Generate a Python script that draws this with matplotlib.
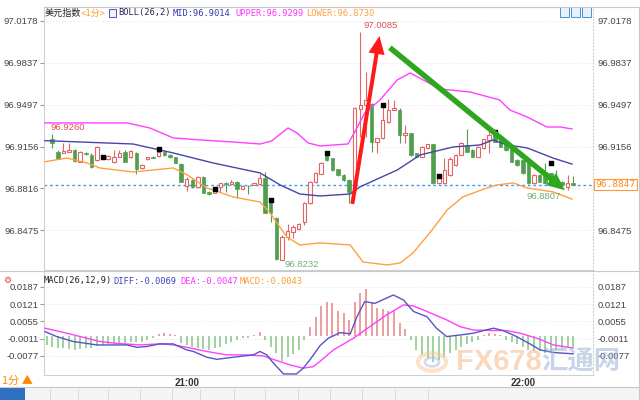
import numpy as np
import matplotlib
matplotlib.use("Agg")
import matplotlib.pyplot as plt
from matplotlib.patches import FancyArrowPatch, Rectangle, Circle
from matplotlib.lines import Line2D

# ---------------- data (1-minute candles 20:36 .. 22:09) ----------------
opens = [96.9215, 96.9115, 96.9107, 96.9115, 96.9128, 96.9033, 96.9101, 96.9088, 96.9047, 96.9079,
         96.9052, 96.9033, 96.9074, 96.9115, 96.9069, 96.9107, 96.8979, 96.9052, 96.9071, 96.9079,
         96.9115, 96.9088, 96.9069, 96.9015, 96.8836, 96.8885, 96.8825, 96.8912, 96.8790, 96.8782,
         96.8831, 96.8858, 96.8852, 96.8871, 96.8814, 96.8839, 96.8844, 96.8852, 96.8898, 96.8695,
         96.8573, 96.8238, 96.8425, 96.8465, 96.8484, 96.8545, 96.8700, 96.8866, 96.8934, 96.9088,
         96.9061, 96.8970, 96.8926, 96.8885, 96.8800, 96.9460, 96.9494, 96.9500, 96.9196, 96.9228,
         96.9359, 96.9453, 96.9453, 96.9250, 96.9263, 96.9101, 96.9074, 96.9142, 96.9174, 96.8858,
         96.8858, 96.8925, 96.9006, 96.9090, 96.9169, 96.9128, 96.9074, 96.9142, 96.9210, 96.9250,
         96.9209, 96.9182, 96.9155, 96.9047, 96.9047, 96.9047, 96.8858, 96.8925, 96.8952, 96.8939,
         96.8885, 96.8871, 96.8825, 96.8858]
highs = [96.9260, 96.9128, 96.9182, 96.9188, 96.9134, 96.9123, 96.9115, 96.9101, 96.9161, 96.9088,
         96.9088, 96.9128, 96.9128, 96.9128, 96.9128, 96.9115, 96.9015, 96.9074, 96.9079, 96.9147,
         96.9128, 96.9096, 96.9074, 96.9025, 96.8906, 96.8890, 96.8917, 96.8917, 96.8798, 96.8817,
         96.8863, 96.8871, 96.8885, 96.8877, 96.8841, 96.8844, 96.8863, 96.8933, 96.8952, 96.8709,
         96.8587, 96.8438, 96.8527, 96.8519, 96.8533, 96.8709, 96.8877, 96.8952, 96.9034, 96.9096,
         96.9066, 96.8975, 96.8930, 96.8890, 96.9480, 97.0085, 96.9765, 96.9510, 96.9228, 96.9480,
         96.9540, 96.9534, 96.9466, 96.9331, 96.9270, 96.9105, 96.9160, 96.9180, 96.9180, 96.8920,
         96.9061, 96.9074, 96.9095, 96.9195, 96.9296, 96.9135, 96.9160, 96.9220, 96.9290, 96.9255,
         96.9215, 96.9188, 96.9160, 96.9052, 96.9052, 96.9052, 96.8930, 96.8930, 96.9020, 96.8945,
         96.8966, 96.8877, 96.8925, 96.8917]
lows = [96.9142, 96.9052, 96.9105, 96.9112, 96.9033, 96.9031, 96.9088, 96.8985, 96.9042, 96.9052,
        96.9047, 96.9025, 96.9069, 96.9031, 96.9061, 96.8933, 96.8974, 96.9047, 96.9061, 96.9074,
        96.9082, 96.9063, 96.9020, 96.8866, 96.8798, 96.8820, 96.8820, 96.8776, 96.8763, 96.8776,
        96.8790, 96.8790, 96.8844, 96.8736, 96.8809, 96.8771, 96.8841, 96.8844, 96.8614, 96.8546,
        96.8235, 96.8232, 96.8398, 96.8411, 96.8479, 96.8519, 96.8690, 96.8858, 96.8930, 96.9042,
        96.8960, 96.8920, 96.8880, 96.8700, 96.8790, 96.9237, 96.9237, 96.9115, 96.9101, 96.9220,
        96.9350, 96.9450, 96.9182, 96.9182, 96.9082, 96.9069, 96.9069, 96.9138, 96.8850, 96.8850,
        96.8850, 96.8920, 96.9000, 96.9085, 96.9110, 96.9069, 96.9069, 96.9138, 96.9101, 96.9190,
        96.9150, 96.9122, 96.9028, 96.9000, 96.8933, 96.8852, 96.8852, 96.8866, 96.8852, 96.8852,
        96.8852, 96.8838, 96.8807, 96.8840]
closes = [96.9188, 96.9055, 96.9120, 96.9128, 96.9039, 96.9115, 96.9098, 96.8993, 96.9155, 96.9061,
          96.9079, 96.9069, 96.9101, 96.9033, 96.9120, 96.8971, 96.9006, 96.9069, 96.9066, 96.9115,
          96.9088, 96.9069, 96.9025, 96.8871, 96.8890, 96.8825, 96.8912, 96.8782, 96.8768, 96.8809,
          96.8858, 96.8855, 96.8871, 96.8809, 96.8836, 96.8833, 96.8858, 96.8898, 96.8619, 96.8614,
          96.8240, 96.8425, 96.8473, 96.8500, 96.8527, 96.8700, 96.8868, 96.8939, 96.9021, 96.9048,
          96.8966, 96.8926, 96.8885, 96.8790, 96.9466, 96.9494, 96.9535, 96.9196, 96.9223, 96.9372,
          96.9454, 96.9466, 96.9250, 96.9269, 96.9088, 96.9074, 96.9155, 96.9174, 96.8858, 96.8917,
          96.8966, 96.9052, 96.9088, 96.9188, 96.9115, 96.9074, 96.9155, 96.9215, 96.9250, 96.9196,
          96.9155, 96.9128, 96.9033, 96.9006, 96.8939, 96.8858, 96.8925, 96.8871, 96.8858, 96.8858,
          96.8858, 96.8844, 96.8858, 96.8847]

# Bollinger bands BOLL(26,2), sampled along the drawn lines (candle index, price)
upper_idx = [-1.3, 13.4, 17.4, 21.6, 26.4, 32.3, 37.1, 39.2, 40.7, 42.1, 43.7, 45.7, 47.8, 52.8,
             54.2, 55.8, 58.5, 61.6, 63.9, 66.9, 69.2, 74.6, 79.9, 81.7, 84.8, 88.3, 90.7, 92.8]
upper_val = [96.9348, 96.9348, 96.9307, 96.9226, 96.9210, 96.9193, 96.9177, 96.9202, 96.9258,
             96.9307, 96.9266, 96.9185, 96.9161, 96.9177, 96.9291, 96.9429, 96.9534, 96.9697,
             96.9754, 96.9680, 96.9624, 96.9599, 96.9534, 96.9453, 96.9396, 96.9315, 96.9315, 96.9299]
mid_idx = [-1.3, 14.4, 21.6, 28.7, 37.1, 40.7, 44.2, 47.8, 53.2, 54.9, 61.6, 65.7, 71.6, 76.4,
           78.7, 81.2, 84.8, 89.4, 92.8]
mid_val = [96.9204, 96.9177, 96.9104, 96.9023, 96.8942, 96.8844, 96.8771, 96.8755, 96.8771,
           96.8828, 96.8966, 96.9088, 96.9153, 96.9169, 96.9210, 96.9169, 96.9145, 96.9063, 96.9014]
lower_idx = [-1.3, 2.6, 6.2, 8.5, 14.4, 21.6, 24.1, 27.6, 32.3, 37.1, 38.9, 40.1, 41.9, 44.2,
             47.8, 53.2, 55.5, 59.8, 62.1, 64.4, 67.4, 70.5, 73.3, 77.6, 79.4, 82.3, 84.8, 89.4, 92.8]
lower_val = [96.9033, 96.9063, 96.9023, 96.8982, 96.8950, 96.8982, 96.8926, 96.8820, 96.8747,
             96.8706, 96.8617, 96.8536, 96.8422, 96.8357, 96.8374, 96.8357, 96.8219, 96.8195,
             96.8211, 96.8292, 96.8455, 96.8641, 96.8747, 96.8820, 96.8844, 96.8861, 96.8820,
             96.8788, 96.8730]

last_price = 96.8847
marker_idx = [9, 19, 29, 39, 49, 59, 69, 79, 89]
marker_price = [96.9074, 96.9137, 96.8810, 96.8723, 96.9102, 96.9494, 96.8917, 96.9272, 96.9025]

# MACD(26,12,9)
hist_start = -1
macd_hist = [-0.0035, -0.0041, -0.0048, -0.0048, -0.0052, -0.0054, -0.0052, -0.0048, -0.0048, -0.0039,
             -0.0035, -0.0031, -0.0029, -0.0029, -0.0029, -0.0022, -0.0022, -0.0022, -0.0016, -0.0009,
             0.0007, 0.0010, 0.0007, 0.0003, -0.0026, -0.0035, -0.0041, -0.0048, -0.0052, -0.0054,
             -0.0048, -0.0041, -0.0031, -0.0022, -0.0016, -0.0009, -0.0007, 0.0003, 0.0016, -0.0018,
             -0.0041, -0.0067, -0.0095, -0.0080, -0.0069, -0.0054, -0.0016, 0.0035, 0.0073, 0.0114,
             0.0131, 0.0127, 0.0093, 0.0086, 0.0061, 0.0131, 0.0163, 0.0178, 0.0131, 0.0108,
             0.0102, 0.0093, 0.0093, 0.0050, 0.0025, -0.0016, -0.0054, -0.0073, -0.0086, -0.0099,
             -0.0092, -0.0082, -0.0067, -0.0054, -0.0041, -0.0031, -0.0022, -0.0016, 0.0003, 0.0010,
             0.0007, 0.0003, -0.0016, -0.0022, -0.0031, -0.0041, -0.0054, -0.0060, -0.0060, -0.0064,
             -0.0060, -0.0054, -0.0048, -0.0041, -0.0043]
diff_idx = [-1.3, 0.8, 3.75, 6.1, 7.9, 10.9, 13.3, 15.1, 16.9, 19.2, 21.6, 24.0, 25.2, 27.6, 29.4,
            32.3, 35.9, 37.1, 38.3, 39.5, 41.3, 43.6, 44.8, 46.0, 47.8, 49.3, 51.4, 52.3, 53.2,
            54.4, 55.8, 57.6, 60.9, 62.7, 64.5, 66.9, 68.6, 70.4, 72.8, 75.2, 77.0, 78.8, 80.5,
            82.9, 85.3, 87.1, 89.5, 93.0]
diff_val = [0.0016, -0.0003, -0.0022, -0.0029, -0.0035, -0.0035, -0.0035, -0.0044, -0.0041, -0.0031,
            -0.0031, -0.0054, -0.0060, -0.0082, -0.0090, -0.0082, -0.0073, -0.0060, -0.0073, -0.0105,
            -0.0146, -0.0146, -0.0124, -0.0092, -0.0038, -0.0009, 0.0012, 0.0010, 0.0007, 0.0073,
            0.0131, 0.0124, 0.0156, 0.0137, 0.0093, 0.0073, 0.0029, -0.0003, 0.0003, 0.0010,
            0.0020, 0.0029, 0.0020, -0.0003, -0.0031, -0.0054, -0.0064, -0.0069]
dea_idx = [-1.3, 2.6, 6.1, 8.5, 11.5, 15.7, 19.2, 21.6, 24.0, 27.6, 31.1, 34.7, 37.7, 40.1, 42.4,
           44.8, 46.6, 47.8, 50.2, 53.8, 56.7, 59.7, 62.7, 64.5, 66.9, 70.4, 72.8, 75.2, 78.8,
           81.1, 83.5, 86.5, 89.5, 93.0]
dea_val = [0.0029, 0.0010, -0.0009, -0.0022, -0.0029, -0.0035, -0.0031, -0.0035, -0.0044, -0.0060,
           -0.0073, -0.0073, -0.0077, -0.0095, -0.0111, -0.0124, -0.0118, -0.0098, -0.0054, -0.0009,
           0.0035, 0.0080, 0.0118, 0.0114, 0.0093, 0.0061, 0.0035, 0.0022, 0.0020, 0.0020,
           0.0010, -0.0009, -0.0035, -0.0047]

price_ticks = [97.0178, 96.9837, 96.9497, 96.9156, 96.8816, 96.8475]
price_ticks_right = [97.0178, 96.9837, 96.9497, 96.9156, 96.8475]
macd_ticks = [0.0187, 0.0121, 0.0055, -0.0011, -0.0077]
time_labels = ["21:00", "22:00"]
time_label_idx = [24, 84]

red_arrow = [(53.5, 96.8668), (58.5, 97.0076)]
green_arrow = [(59.9, 96.9973), (91.9, 96.8788)]
extreme_labels = [("96.9260", -0.4, 96.9307, "#e05050"), ("97.0085", 55.5, 97.0135, "#e05050"),
                  ("96.8232", 41.5, 96.8195, "#6fae6f"), ("96.8807", 84.7, 96.8747, "#6fae6f")]

# ---------------- style ----------------
RED = "#e26464"
GREEN = "#4f9f4f"
MAG = "#ff40ff"
NAVY = "#4646a8"
ORANGE = "#ffa040"
TXT = "#444444"
W, H = 640, 400
NUMFONT = "Liberation Sans"

fig = plt.figure(figsize=(6.4, 4.0), dpi=100, facecolor="white")


def fx(x):
    return x / W


def fy(y):
    return 1 - y / H


def fline(x0, y0, x1, y1, color="#c8c8c8", lw=0.8, ls="-"):
    fig.add_artist(Line2D([fx(x0), fx(x1)], [fy(y0), fy(y1)], transform=fig.transFigure,
                          color=color, lw=lw, ls=ls))


XMIN, XMAX = -1.48, 96.55
ax = fig.add_axes([fx(44), fy(270), fx(593) - fx(44), fy(7) - fy(270)])
mx = fig.add_axes([fx(44), fy(375), fx(593) - fx(44), fy(272) - fy(375)])

# ---- main candles ----
o = np.array(opens); h = np.array(highs); l = np.array(lows); c = np.array(closes)
idx = np.arange(len(o))
up = c >= o
ax.vlines(idx[up], l[up], h[up], color=RED, lw=0.8, zorder=2)
ax.vlines(idx[~up], l[~up], h[~up], color=GREEN, lw=0.8, zorder=2)
ax.bar(idx[up], np.maximum(c - o, 0.0002)[up], bottom=o[up], width=0.64,
       facecolor="white", edgecolor=RED, lw=0.8, zorder=3)
ax.bar(idx[~up], np.maximum(o - c, 0.0002)[~up], bottom=c[~up], width=0.64,
       facecolor=GREEN, edgecolor=GREEN, lw=0.5, zorder=3)

ax.plot(upper_idx, upper_val, color=MAG, lw=1.0, zorder=4)
ax.plot(mid_idx, mid_val, color=NAVY, lw=1.0, zorder=4)
ax.plot(lower_idx, lower_val, color=ORANGE, lw=1.0, zorder=4)
ax.axhline(last_price, color="#3d9cf5", lw=1.0, ls=(0, (2, 2)), zorder=1)
ax.scatter(marker_idx, marker_price, marker="s", s=11, color="black", zorder=5)

for txt, xi, yv, col in extreme_labels:
    ax.text(xi, yv, txt, color=col, fontsize=6.8, family=NUMFONT, ha="left", va="center", zorder=6)

ra = FancyArrowPatch(red_arrow[0], red_arrow[1],
                     arrowstyle="simple,head_width=0.9,head_length=1.0,tail_width=0.22",
                     mutation_scale=13, color="#ff1a1a", lw=0, zorder=7)
ax.add_patch(ra)
ga = FancyArrowPatch(green_arrow[0], green_arrow[1],
                     arrowstyle="simple,head_width=0.8,head_length=0.9,tail_width=0.28",
                     mutation_scale=14, color="#2ea61e", lw=0, zorder=7)
ax.add_patch(ga)

ax.set_xlim(XMIN, XMAX)
ax.set_ylim(96.8154, 97.0289)
ax.set_yticks(price_ticks)
ax.set_yticklabels([f"{v:.4f}" for v in price_ticks])
ax.set_xticks([])
ax.tick_params(axis="y", length=3, color="#999999", labelsize=6.8, labelcolor=TXT, pad=1)
for lab in ax.get_yticklabels():
    lab.set_family(NUMFONT)
ax.grid(axis="y", color="#e4e4e4", ls=(0, (1, 2)), lw=0.7)
for s in ax.spines.values():
    s.set_color("#d0d0d0"); s.set_linewidth(0.8)
ax.spines["right"].set_linestyle((0, (1, 2)))

ax2 = ax.twinx()
ax2.set_ylim(ax.get_ylim())
ax2.set_yticks(price_ticks_right)
ax2.set_yticklabels([f"{v:.4f}" for v in price_ticks_right])
ax2.tick_params(axis="y", length=0, labelsize=6.8, labelcolor=TXT, pad=3)
for lab in ax2.get_yticklabels():
    lab.set_family(NUMFONT)
for s in ax2.spines.values():
    s.set_visible(False)

ax.text(1.004, last_price, f"{last_price:.4f}", transform=ax.get_yaxis_transform(),
        color="#ff8c1a", fontsize=6.8, family="DejaVu Sans Mono", ha="left", va="center",
        bbox=dict(boxstyle="square,pad=0.12", fc="white", ec="#ff9a3a", lw=0.8), clip_on=False)

# ---- MACD panel ----
hv = np.array(macd_hist)
hidx = np.arange(hist_start, hist_start + len(hv))
pos = hv >= 0
mx.vlines(hidx[pos], 0, hv[pos], color="#ea8383", lw=1.1, zorder=2)
mx.vlines(hidx[~pos], 0, hv[~pos], color="#86c486", lw=1.1, zorder=2)
mx.plot(dea_idx, dea_val, color=MAG, lw=1.0, zorder=3)
mx.plot(diff_idx, diff_val, color="#5555c4", lw=1.0, zorder=4)
mx.set_xlim(XMIN, XMAX)
mx.set_ylim(-0.0150, 0.0244)
mx.set_yticks(macd_ticks)
mx.set_yticklabels([f"{v:.4f}" for v in macd_ticks])
mx.tick_params(axis="y", length=3, color="#999999", labelsize=6.8, labelcolor=TXT, pad=1)
for lab in mx.get_yticklabels():
    lab.set_family(NUMFONT)
mx.set_xticks(time_label_idx)
mx.set_xticklabels(time_labels)
mx.tick_params(axis="x", length=0, labelsize=7, labelcolor="#333333", pad=2)
for lab in mx.get_xticklabels():
    lab.set_family(NUMFONT); lab.set_fontweight("bold")
mx.grid(axis="y", color="#e4e4e4", ls=(0, (1, 2)), lw=0.7)
for s in mx.spines.values():
    s.set_color("#d0d0d0"); s.set_linewidth(0.8)
mx.spines["right"].set_linestyle((0, (1, 2)))
mx.spines["top"].set_visible(False)
mx2 = mx.twinx()
mx2.set_ylim(mx.get_ylim())
mx2.set_yticks(macd_ticks)
mx2.set_yticklabels([f"{v:.4f}" for v in macd_ticks])
mx2.tick_params(axis="y", length=0, labelsize=6.8, labelcolor=TXT, pad=3)
for lab in mx2.get_yticklabels():
    lab.set_family(NUMFONT)
for s in mx2.spines.values():
    s.set_visible(False)

# ---- frame lines ----
fline(44, 7, 640, 7)
fline(0, 270.5, 640, 270.5)
fline(0, 386.5, 640, 386.5)
fline(638.5, 7, 638.5, 400)

# ---- titles ----
CJK = ["Noto Sans CJK SC", "DejaVu Sans"]
MONO = ["DejaVu Sans Mono", "Noto Sans CJK SC"]
ty = 13
fig.text(fx(45), fy(ty), "美元指数", family=CJK, fontsize=6.6, color="#222222", va="center")
fig.text(fx(81), fy(ty), "<1分>", family=MONO, fontsize=6.4, color="#ff9a2e", va="center")
fig.add_artist(Rectangle((fx(109), fy(17)), fx(7), fy(0) - fy(8), transform=fig.transFigure,
                         fc="#eef0ff", ec="#3a3ab0", lw=0.6))
fig.text(fx(118), fy(ty), "BOLL(26,2)", family=MONO, fontsize=6.3, color="#222255", va="center")
fig.text(fx(173), fy(ty), "MID:96.9014", family=MONO, fontsize=6.3, color="#3838a8", va="center")
fig.text(fx(235), fy(ty), "UPPER:96.9299", family=MONO, fontsize=6.3, color="#ff33ff", va="center")
fig.text(fx(306), fy(ty), "LOWER:96.8730", family=MONO, fontsize=6.3, color="#ffa040", va="center")

my = 281
fig.text(fx(3), fy(my - 1), "⚙", family=["DejaVu Sans"], fontsize=6.5, color="#e04040", va="center")
fig.text(fx(44), fy(my), "MACD(26,12,9)", family=MONO, fontsize=6.3, color="#222222", va="center")
fig.text(fx(113), fy(my), "DIFF:-0.0069", family=MONO, fontsize=6.3, color="#4040c0", va="center")
fig.text(fx(180), fy(my), "DEA:-0.0047", family=MONO, fontsize=6.3, color="#ff33ff", va="center")
fig.text(fx(240), fy(my), "MACD:-0.0043", family=MONO, fontsize=6.3, color="#ff9a2e", va="center")

fig.text(fx(2), fy(381), "1分 ▲", family=CJK, fontsize=8, color="#ff8800", va="center")

# top-right buttons
for bx in (560, 571, 582):
    fig.add_artist(Rectangle((fx(bx), fy(17)), fx(9), fy(0) - fy(10), transform=fig.transFigure,
                             fc="#e6f1fc", ec="#4a90d9", lw=0.7))

# bottom tab strip
fig.add_artist(Rectangle((0, 0), 1, fy(387), transform=fig.transFigure, fc="#f4f4f4", ec="none"))
fig.add_artist(Rectangle((0, 0), fx(25), fy(388), transform=fig.transFigure, fc="#2f6fc0", ec="none"))
for sx in (50, 78, 108, 140, 172, 200, 234, 265, 298, 330, 362, 395, 428):
    fline(sx, 389, sx, 400, color="#d6d6d6", lw=0.6)

# watermark (drawn faintly behind the right-hand labels, as in the source image)
fig.add_artist(Circle((fx(432), fy(362)), 0.022, transform=fig.transFigure, fc="none",
                      ec="#f6c79a", lw=3, alpha=0.5))
fig.add_artist(Circle((fx(432), fy(362)), 0.011, transform=fig.transFigure, fc="none",
                      ec="#a9bcd8", lw=2, alpha=0.5))
fig.text(fx(456), fy(362), "FX678", family=["Liberation Sans"], fontsize=21, color="#f7b98a",
         alpha=0.55, va="center", fontweight="bold", zorder=0)
fig.text(fx(541), fy(362), "汇通网", family=CJK, fontsize=19, color="#9fb2d6", alpha=0.55,
         va="center", fontweight="bold", zorder=0)

fig.savefig("out.png", dpi=100, facecolor="white")
